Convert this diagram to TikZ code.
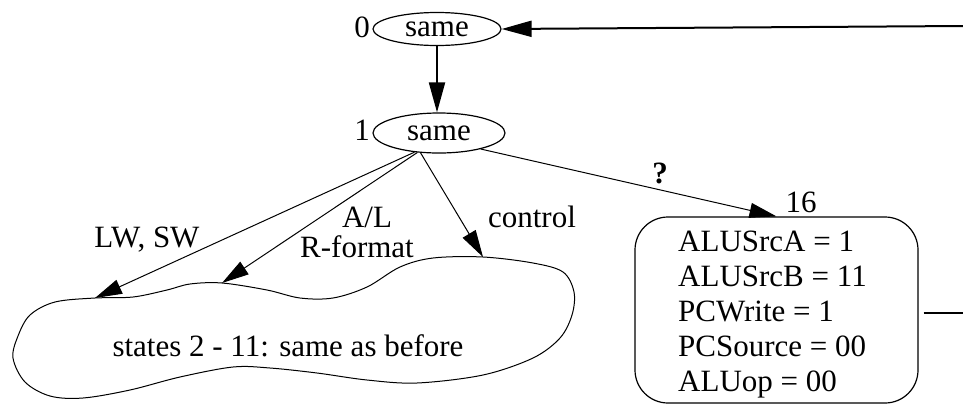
\documentclass[tikz,border=0pt]{standalone}
\usepackage{fontspec}
\setmainfont{Liberation Serif}
\usetikzlibrary{arrows.meta,shapes.geometric}
\begin{document}
\begin{tikzpicture}[x=1pt,y=-1pt,
  every node/.style={font=\fontsize{31}{35}\selectfont, inner sep=0pt},
  stateell/.style={draw, ellipse, line width=1.2pt},
  thickarrow/.style={line width=2pt, -{Triangle[length=30pt,width=16pt]}},
  thinarrow/.style={line width=1pt, -{Triangle[length=27pt,width=15pt]}},
  lbl/.style={anchor=base}]
\useasboundingbox (0,0) rectangle (963,405);
% states 0 and 1
\node[stateell, minimum width=128pt, minimum height=33pt] (e0) at (437,29) {same};
\node[anchor=base east] (n0) at (370,37) {0};
\node[stateell, minimum width=132pt, minimum height=40pt] (e1) at (439,133) {same};
\node[anchor=base east] (n1) at (370,140) {1};
% state 16
\node[draw, line width=1.2pt, rounded corners=33pt, minimum width=283pt, minimum height=186pt] (b16) at (776.5,310) {};
\node[anchor=west, align=left] (t16) at (678,315) {ALUSrcA = 1\\ALUSrcB = 11\\PCWrite = 1\\PCSource = 00\\ALUop = 00};
\node[lbl] (n16) at (801,212) {16};
% cloud
\coordinate (c1) at (95,298);
\coordinate (c2) at (222,283);
\coordinate (c3) at (483,257);
\draw[line width=1pt] plot[smooth cycle, tension=0.55] coordinates {(c1) (133,297) (167,290) (190,284) (c2) (267,290) (300,298) (333,298) (367,287) (400,267) (433,258) (c3) (533,263) (563,272) (574,292) (572,315) (560,338) (533,358) (483,375) (417,383) (367,380) (317,373) (270,368) (233,367) (180,377) (130,390) (83,398) (50,396) (25,382) (13,358) (18,336) (30,315) (55,302)};
\node[lbl] (lst) at (288,356) {states 2 - 11: same as before};
% labels
\node[lbl] (llw) at (147,247) {LW, SW};
\node[lbl] (lal) at (367,227) {A/L};
\node[lbl] (lrf) at (357,257) {R-format};
\node[lbl] (lct) at (532,227) {control};
\node[lbl] (lq) at (660,183) {\bfseries ?};
% connectors
\coordinate (in) at (963,26);
\coordinate (out) at (963,313);
\coordinate (bo) at ([xshift=5pt]b16.east);
\draw[thickarrow] (in) -- (e0.east);
\draw[thickarrow] (e0.south) -- (e0.south |- e1.north);
\draw[thinarrow] (e1.-142) -- (c1);
\draw[thinarrow] (e1.-138) -- (c2);
\draw[thinarrow] (e1.-133) -- (c3);
\draw[thinarrow] (e1.-21) -- (b16.north);
\draw[line width=2pt] (bo |- out) -- (out);
\end{tikzpicture}
\end{document}
